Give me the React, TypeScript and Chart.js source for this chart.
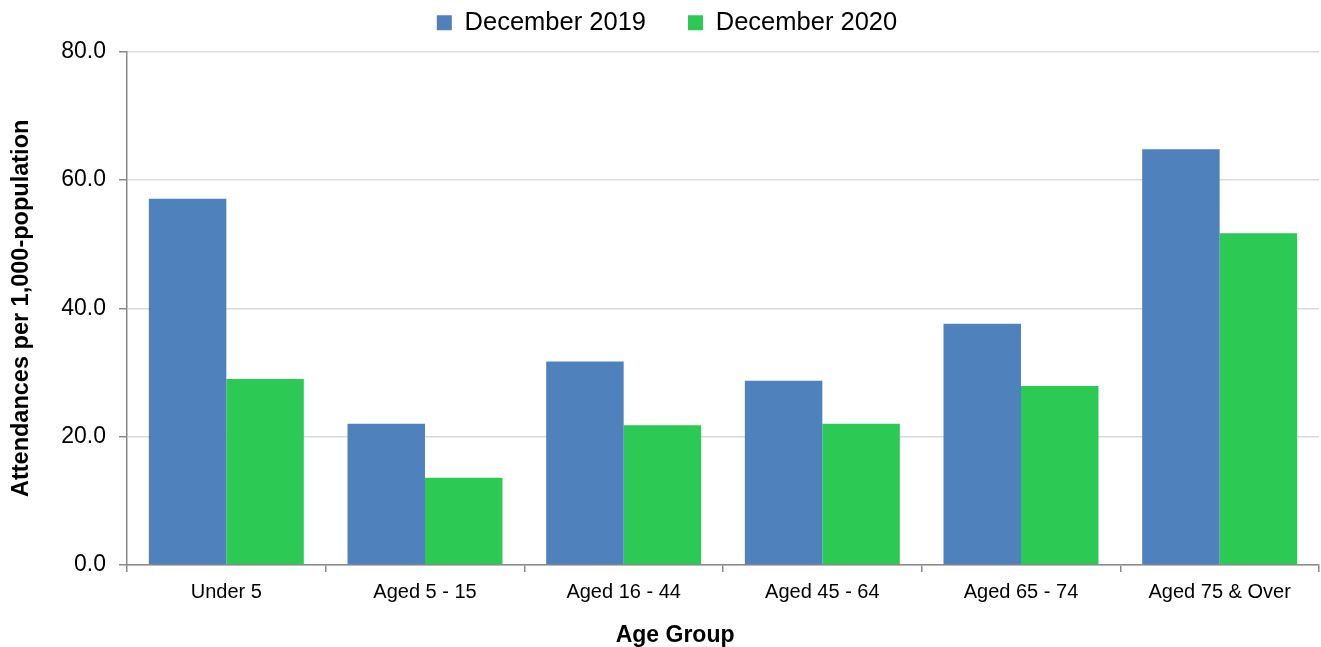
import React, { useEffect, useRef } from "react";
import { Chart, registerables } from "chart.js";

Chart.register(...registerables);

const categories = ["Under 5", "Aged 5 - 15", "Aged 16 - 44", "Aged 45 - 64", "Aged 65 - 74", "Aged 75 & Over"];
const seriesNames = ["December 2019", "December 2020"];
const dec2019 = [57.1, 22.0, 31.7, 28.7, 37.6, 64.8];
const dec2020 = [29.0, 13.6, 21.8, 22.0, 27.9, 51.7];
const yTicks = [0, 20, 40, 60, 80];
const xTitle = "Age Group";
const yTitle = "Attendances per 1,000-population";

const FONT = "'Liberation Sans', Arial, sans-serif";

export default function App() {
  const ref = useRef<HTMLCanvasElement | null>(null);

  useEffect(() => {
    document.body.style.margin = "0";
    const canvas = ref.current;
    if (!canvas) return;
    const chart = new Chart(canvas, {
      type: "bar",
      data: {
        labels: categories,
        datasets: [
          {
            label: seriesNames[0],
            data: dec2019,
            backgroundColor: "#4F81BD",
            borderWidth: 0,
            categoryPercentage: 0.78,
            barPercentage: 1,
          },
          {
            label: seriesNames[1],
            data: dec2020,
            backgroundColor: "#2DC955",
            borderWidth: 0,
            categoryPercentage: 0.78,
            barPercentage: 1,
          },
        ],
      },
      options: {
        responsive: false,
        animation: false,
        maintainAspectRatio: false,
        layout: { padding: { left: 15, right: 2, top: -32, bottom: 0 } },
        plugins: {
          legend: {
            position: "top",
            weight: 1000,
            labels: {
              boxWidth: 15,
              boxHeight: 15,
              padding: 42,
              color: "#000",
              font: { family: FONT, size: 25.5 },
            },
          },
          title: {
            display: true,
            text: "",
            position: "top",
            weight: 500,
            font: { size: 1 },
            padding: { top: 5, bottom: 0 },
          },
          tooltip: { enabled: false },
        },
        scales: {
          x: {
            grid: {
              display: true,
              drawOnChartArea: false,
              drawTicks: true,
              tickLength: 7,
              color: "#898989",
              lineWidth: 1.5,
            },
            border: { display: true, color: "#898989", width: 1.5 },
            ticks: {
              color: "#000",
              padding: 8,
              font: { family: FONT, size: 20 },
              maxRotation: 0,
              autoSkip: false,
            },
            title: {
              display: true,
              text: xTitle + " ".repeat(15),
              color: "#000",
              font: { family: FONT, size: 23, weight: "bold" },
              padding: { top: 10, bottom: -2 },
            },
            afterFit: (scale: any) => {
              scale.height = 82;
            },
          },
          y: {
            min: 0,
            max: 80,
            afterBuildTicks: (scale: any) => {
              scale.ticks = yTicks.map((v) => ({ value: v }));
            },
            grid: {
              color: "#d9d9d9",
              lineWidth: 1.5,
              tickColor: "#898989",
              tickLength: 8,
            },
            border: { display: true, color: "#898989", width: 1.5 },
            ticks: {
              color: "#000",
              padding: 13,
              font: { family: FONT, size: 23 },
              callback: (v: any) => Number(v).toFixed(1),
            },
            title: {
              display: true,
              text: yTitle,
              color: "#000",
              font: { family: FONT, size: 23.5, weight: "bold" },
              padding: { top: -8, bottom: 0 },
            },
            afterFit: (scale: any) => {
              scale.width = 112;
            },
          },
        },
      },
    });
    return () => chart.destroy();
  }, []);

  return (
    <div style={{ position: "fixed", left: 0, top: 0, width: 1321, height: 647, background: "#fff" }}>
      <canvas ref={ref} width={1321} height={647} style={{ display: "block" }} />
    </div>
  );
}
